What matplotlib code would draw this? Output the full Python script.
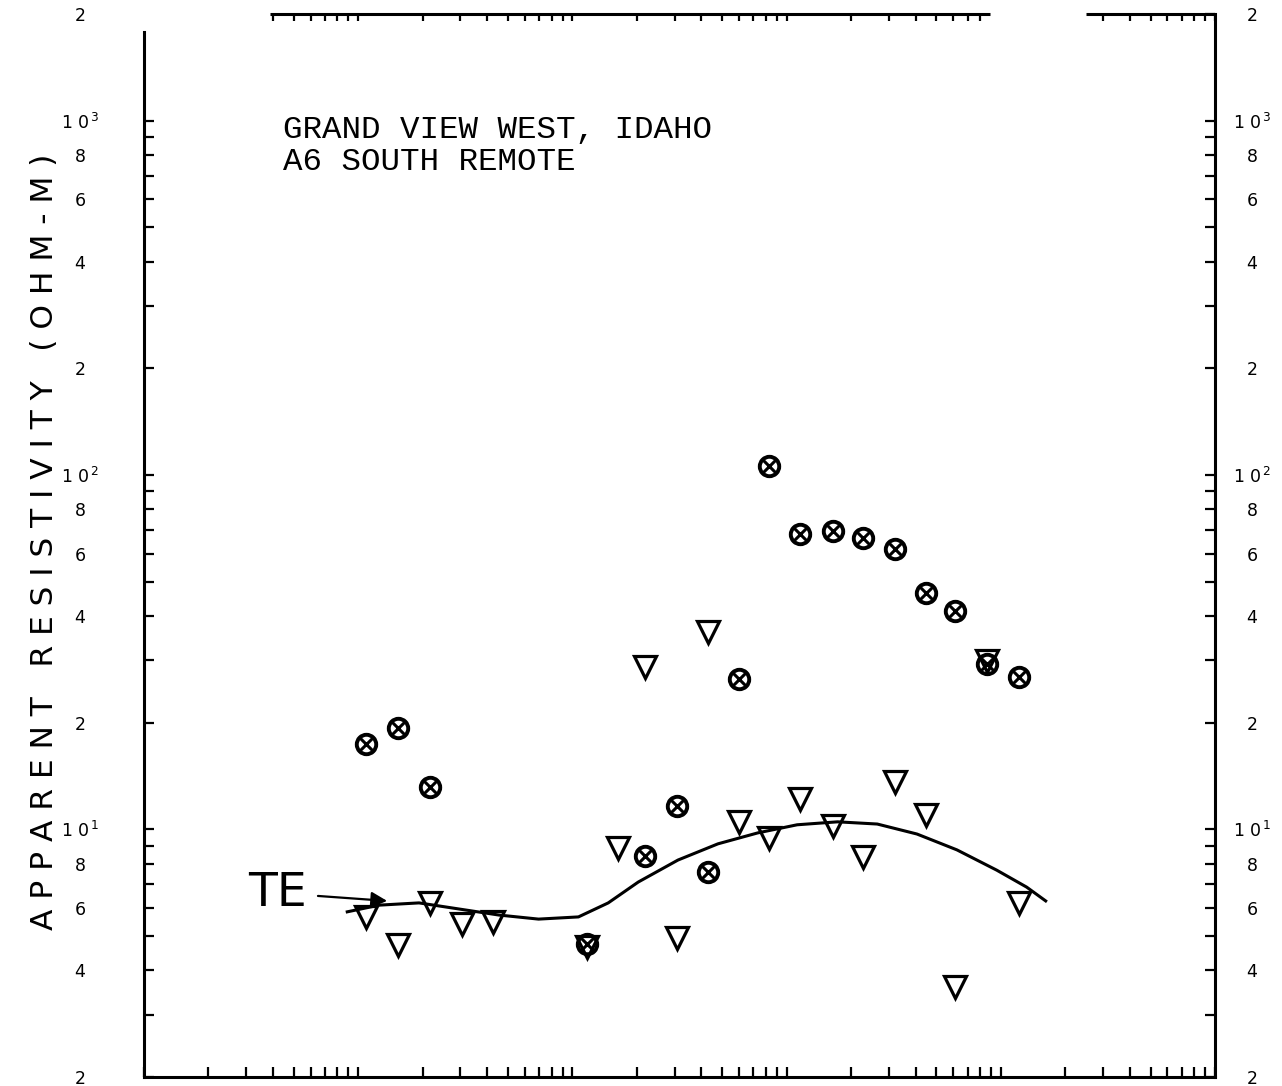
import numpy as np
import matplotlib.pyplot as plt
import matplotlib.transforms as mtransforms
from matplotlib.ticker import FixedLocator, FuncFormatter, NullFormatter

# Grand View West, Idaho - A6 south remote
# x axis (period, s) carries no labels in the original plot

# circle-cross points
period_tm = [0.0109, 0.0153, 0.0216, 0.117, 0.219, 0.308, 0.430, 0.598, 0.824,
             1.16, 1.64, 2.28, 3.21, 4.48, 6.11, 8.61, 12.1]
rho_tm = [17.4, 19.3, 13.2, 4.74, 8.41, 11.6, 7.58, 26.6, 106.0,
          68.1, 69.5, 66.4, 61.8, 46.5, 41.3, 29.3, 26.9]

# triangle points (TE)
period_te = [0.0109, 0.0153, 0.0216, 0.0305, 0.0425, 0.117, 0.164, 0.219, 0.308, 0.430,
             0.598, 0.824, 1.16, 1.64, 2.28, 3.21, 4.48, 6.11, 8.61, 12.1]
rho_te = [5.66, 4.72, 6.20, 5.41, 5.47, 4.66, 8.85, 28.7, 4.93, 36.0,
          10.5, 9.45, 12.2, 10.2, 8.35, 13.6, 11.0, 3.59, 29.9, 6.20]

# hand drawn TE model curve
model_period = [0.00889, 0.01253, 0.01923, 0.0295, 0.0453, 0.0695, 0.1067, 0.147, 0.203, 0.311,
                0.478, 0.733, 1.12, 1.73, 2.65, 4.06, 6.24, 9.57, 13.2, 16.2]
model_rho = [5.85, 6.11, 6.20, 5.96, 5.73, 5.58, 5.66, 6.20, 7.10, 8.19,
             9.10, 9.77, 10.3, 10.5, 10.35, 9.70, 8.75, 7.67, 6.87, 6.28]

xmin, xmax = 1e-3, 1e2
ymin, ymax = 2, 2000

fig = plt.figure(figsize=(12.82, 10.86), dpi=100)
ax = fig.add_axes([144/1282, 9/1086, 1071/1282, 1063/1086])

ax.set_xscale('log')
ax.set_yscale('log')
ax.set_xlim(xmin, xmax)
ax.set_ylim(ymin, ymax)

ax.plot(model_period, model_rho, color='black', lw=2.2)

ax.plot(period_te, rho_te, linestyle='none', marker='v', ms=15.5, mfc='none',
        mec='black', mew=2.3)
ax.plot(period_tm, rho_tm, linestyle='none', marker='o', ms=14, mfc='none',
        mec='black', mew=2.8)
ax.plot(period_tm, rho_tm, linestyle='none', marker='x', ms=8.5, mec='black', mew=2.2)

ax.annotate('TE', xy=(0.01365, 6.28), xytext=(0.0042, 6.61),
            fontsize=34, ha='center', va='center', family='DejaVu Sans',
            arrowprops=dict(arrowstyle='-|>', color='black', lw=1.6,
                            mutation_scale=24, shrinkA=6, shrinkB=0))

ax.text(0.130, 0.891, 'GRAND VIEW WEST, IDAHO', transform=ax.transAxes,
        family='Liberation Mono', fontsize=23.4, va='center', ha='left')
ax.text(0.130, 0.861, 'A6 SOUTH REMOTE', transform=ax.transAxes,
        family='Liberation Mono', fontsize=23.4, va='center', ha='left')

# y ticks: every integer multiple, labels only at 2,4,6,8 and powers of ten
yticks = [m * 10**e for e in range(0, 4) for m in range(1, 10) if ymin <= m * 10**e <= ymax]

def ylab(v, pos):
    e = int(np.floor(np.log10(v) + 1e-9))
    m = int(round(v / 10**e))
    if m == 1:
        return r'1 0$^{\,%d}$' % e
    if m in (2, 4, 6, 8):
        return str(m)
    return ''

ax.yaxis.set_major_locator(FixedLocator(yticks))
ax.yaxis.set_major_formatter(FuncFormatter(ylab))
ax.yaxis.set_minor_formatter(NullFormatter())
ax.tick_params(axis='y', which='major', direction='in', left=True, right=True,
               labelleft=True, labelright=True, length=7, width=1.6,
               labelsize=12.5, pad=46)
ax.tick_params(axis='y', which='minor', left=False, right=False)

# labels are centred on a column, right ones closer to the frame
right_shift = mtransforms.ScaledTranslation(37/100, 0, fig.dpi_scale_trans)
yt = ax.yaxis.get_major_ticks()
for t in yt:
    t.label1.set_horizontalalignment('center')
    t.label2.set_horizontalalignment('center')
    t.label2.set_transform(ax.get_yaxis_transform(which='tick2') + right_shift)
# the top-left corner of the frame is missing in the scan
yt[-1].tick1line.set_visible(False)

xticks = [m * 10**e for e in range(-3, 2) for m in range(1, 10)] + [xmax]
ax.xaxis.set_major_locator(FixedLocator(xticks))
ax.xaxis.set_major_formatter(NullFormatter())
ax.xaxis.set_minor_formatter(NullFormatter())
ax.tick_params(axis='x', which='major', direction='in', bottom=True, top=False,
               length=7, width=1.6)
ax.tick_params(axis='x', which='minor', bottom=False, top=False)

# top frame is only partly visible in the scan
top_segments = [(0.00386, 8.93), (25.1, 100.0)]
ax.spines['top'].set_visible(False)
for a, b in top_segments:
    ax.plot([a, b], [1, 1], color='black', lw=2.2, transform=ax.get_xaxis_transform(),
            clip_on=False, solid_capstyle='butt')
top_ticks = [t for t in xticks if any(a <= t <= b for a, b in top_segments)]
ax.vlines(top_ticks, 0.993, 1.0, color='black', lw=1.6,
          transform=ax.get_xaxis_transform(), clip_on=False)

ax.spines['left'].set_bounds(ymin, 1780)
for s in ['left', 'right', 'bottom']:
    ax.spines[s].set_linewidth(2.2)

fig.text(45/1282, 1 - 542/1086, 'A P P A R E N T   R E S I S T I V I T Y   ( O H M - M )',
         rotation=90, ha='center', va='center', fontsize=22.5, family='DejaVu Sans')

fig.savefig('out.png', dpi=100)
